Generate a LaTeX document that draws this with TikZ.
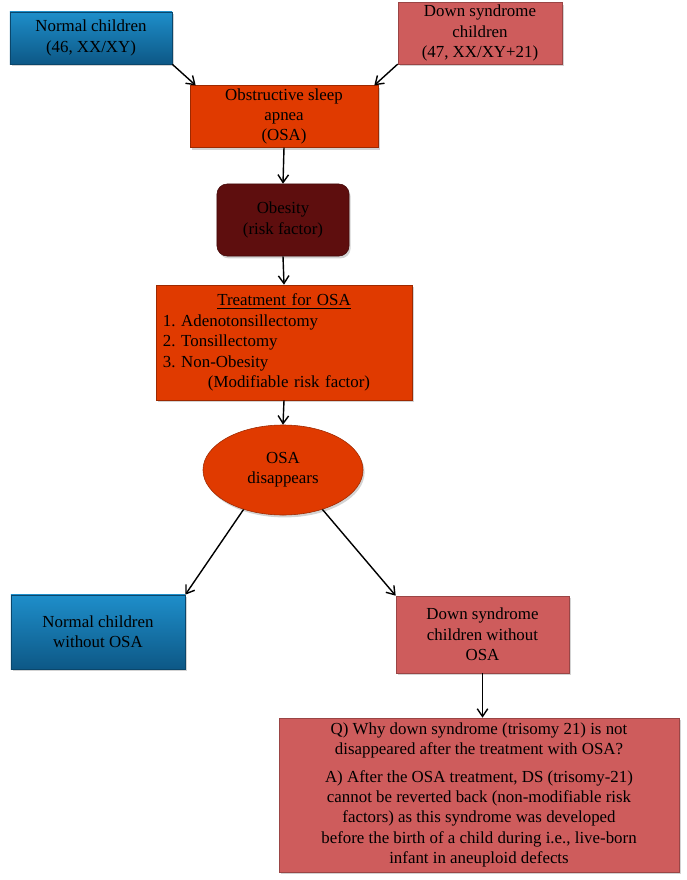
\documentclass[tikz,border=0pt]{standalone}
\usepackage{fontspec}
\setmainfont{Liberation Serif}
\usetikzlibrary{positioning, arrows.meta, shapes.geometric, shadows}

\definecolor{nblueT}{RGB}{30,142,202}
\definecolor{nblueB}{RGB}{13,88,134}
\definecolor{dspink}{RGB}{206,92,92}
\definecolor{osared}{RGB}{224,58,0}
\definecolor{obsbrown}{RGB}{94,14,14}

\begin{document}
\begin{tikzpicture}[
    x=0.025cm, y=-0.025cm,
    txt/.style={font=\fontsize{12}{14.5}\selectfont\frenchspacing, align=center},
    box/.style={txt, draw, rectangle, inner sep=2pt, drop shadow={opacity=0.35, shadow xshift=0.04cm, shadow yshift=-0.06cm}},
    bluebox/.style={box, draw=nblueB!80!black, top color=nblueT, bottom color=nblueB},
    pinkbox/.style={box, draw=dspink!75!black, fill=dspink},
    redbox/.style={box, draw=osared!70!black, fill=osared},
    arr/.style={-{Straight Barb[length=5.5pt,width=7.5pt]}, line width=1pt}
  ]

  \useasboundingbox (0,0) rectangle (686,880);

  % ── ausgangsgruppen ──
  \node[bluebox, minimum width=4.05cm, minimum height=1.3cm] (nc) at (91,38) {Normal children\\(46, XX/XY)};
  \node[pinkbox, minimum width=4.1cm, minimum height=1.5cm] (ds) at (480,33) {Down syndrome\\children\\(47, XX/XY+21)};

  % OSA
  \node[redbox, minimum width=4.7cm, minimum height=1.525cm] (osa) at (284,116.5) {Obstructive sleep\\apnea\\(OSA)};

  % risikofaktor
  \node[box, rounded corners=0.25cm, draw=obsbrown!70!black, fill=obsbrown, minimum width=3.3cm, minimum height=1.8cm] (obs) at (283,220) {Obesity\\(risk factor)};

  % behandlung
  \node[redbox, align=left, text width=6.05cm, inner xsep=0.175cm, minimum height=2.875cm] (treat) at (284,342.5) {\makebox[6.05cm]{\underline{Treatment for OSA}}\\1. Adenotonsillectomy\\2. Tonsillectomy\\3. Non-Obesity\\\hspace*{1.125cm}(Modifiable risk factor)};

  \node[redbox, ellipse, inner sep=0pt, minimum width=4cm, minimum height=2.25cm] (dis) at (283,470) {OSA\\disappears};

  % ── ergebnis ──
  \node[bluebox, minimum width=4.35cm, minimum height=1.85cm] (nno) at (98,632) {Normal children\\without OSA};
  \node[pinkbox, minimum width=4.325cm, minimum height=1.925cm] (dsno) at (482.5,634.5) {Down syndrome\\children without\\OSA};

  % frage / antwort
  \node[pinkbox, minimum width=10cm, minimum height=3.85cm] (qa) at (479,795) {Q) Why down syndrome (trisomy 21) is not\\disappeared after the treatment with OSA?\\[5pt]A) After the OSA treatment, DS (trisomy-21)\\cannot be reverted back (non-modifiable risk\\factors) as this syndrome was developed\\before the birth of a child during i.e., live-born\\infant in aneuploid defects};

  % pfeile
  \draw[arr] (nc.south east) -- ([xshift=0.15cm]osa.north west);
  \draw[arr] (ds.south west) -- ([xshift=-0.1cm]osa.north east);
  \draw[arr] (osa.south) -- (obs.north);
  \draw[arr] (obs.south) -- (treat.north);
  \draw[arr] (treat.south) -- (dis.north);
  \draw[arr] (dis.225) -- (nno.north east);
  \draw[arr] (dis.315) -- (dsno.north west);
  \draw[arr] (dsno.south) -- (dsno.south |- qa.north);

\end{tikzpicture}
\end{document}
